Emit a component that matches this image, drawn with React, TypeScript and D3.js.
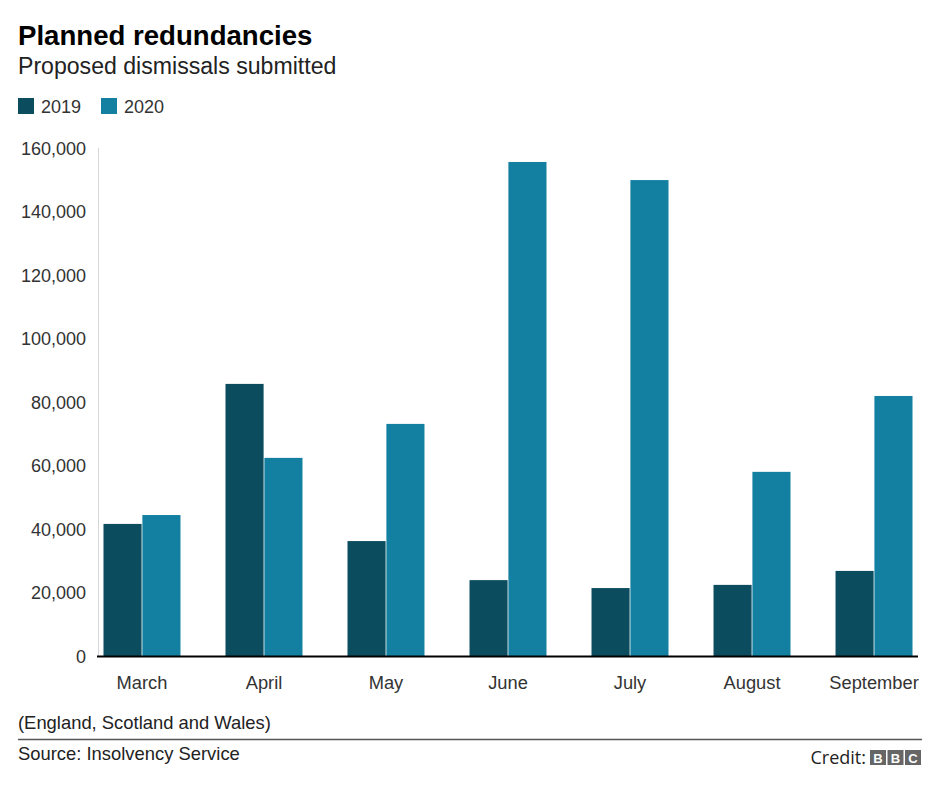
import React from "react";
import * as d3 from "d3";

const months = ["March", "April", "May", "June", "July", "August", "September"];
const series = ["2019", "2020"];
const values2019 = [41600, 85700, 36200, 23900, 21400, 22400, 26800];
const values2020 = [44400, 62400, 73100, 155600, 149900, 58000, 81900];
const yTicks = [0, 20000, 40000, 60000, 80000, 100000, 120000, 140000, 160000];
const colors = ["#0b4c5f", "#1380a1"];

const W = 940;
const H = 789;
const FONT = "'Liberation Sans', Arial, Helvetica, sans-serif";

export default function App() {
  const x0 = d3.scaleBand<string>().domain(months).range([98, 918]).paddingInner(0.369).paddingOuter(0.045);
  const x1 = d3.scaleBand<string>().domain(series).range([0, x0.bandwidth()]).paddingInner(0.02);
  const y = d3.scaleLinear().domain([0, 160000]).range([656, 148]);
  const fmt = d3.format(",");
  const data = [values2019, values2020];

  return (
    <svg width={W} height={H} style={{ position: "absolute", left: 0, top: 0, background: "#fff" }} fontFamily={FONT}>
      <rect x={0} y={0} width={W} height={H} fill="#fff" />
      <text x={18} y={45} fontSize={27.6} fontWeight="bold" fill="#000">Planned redundancies</text>
      <text x={18} y={74} fontSize={23.1} fill="#222">Proposed dismissals submitted</text>

      {series.map((s, i) => (
        <g key={s} transform={`translate(${18 + i * 83},98)`}>
          <rect x={0} y={0} width={16} height={16} fill={colors[i]} />
          <text x={23} y={15} fontSize={18} fill="#333">{s}</text>
        </g>
      ))}

      <line x1={98.5} x2={98.5} y1={y(160000)} y2={y(0)} stroke="#d6d6d6" strokeWidth={1} />
      {yTicks.map((t) => (
        <text key={t} x={86} y={y(t) + 6.5} fontSize={18} textAnchor="end" fill="#333">{fmt(t)}</text>
      ))}

      {months.map((m, mi) => (
        <g key={m} transform={`translate(${x0(m)},0)`}>
          {series.map((s, si) => {
            const v = data[si][mi];
            return (
              <rect key={s} x={x1(s)} y={y(v)} width={x1.bandwidth()} height={y(0) - y(v)} fill={colors[si]} />
            );
          })}
          <text x={x0.bandwidth() / 2} y={689} fontSize={18.3} textAnchor="middle" fill="#333">{m}</text>
        </g>
      ))}
      <line x1={97} x2={918} y1={656.5} y2={656.5} stroke="#000" strokeWidth={2} />

      <text x={18} y={729} fontSize={18.4} fill="#222">(England, Scotland and Wales)</text>
      <line x1={18} x2={922} y1={739.5} y2={739.5} stroke="#555" strokeWidth={1.5} />
      <text x={18} y={760} fontSize={18.4} fill="#222">Source: Insolvency Service</text>
      <text x={866} y={764} fontSize={18} textAnchor="end" fill="#222" fontFamily="'Open Sans', 'DejaVu Sans', sans-serif">Credit:</text>
      {["B", "B", "C"].map((c, i) => (
        <g key={i} transform={`translate(${870 + i * 17.5},750)`}>
          <rect x={0} y={0} width={16} height={15} fill="#666" />
          <text x={8} y={12.5} fontSize={13} fontWeight="bold" textAnchor="middle" fill="#fff">{c}</text>
        </g>
      ))}
    </svg>
  );
}
